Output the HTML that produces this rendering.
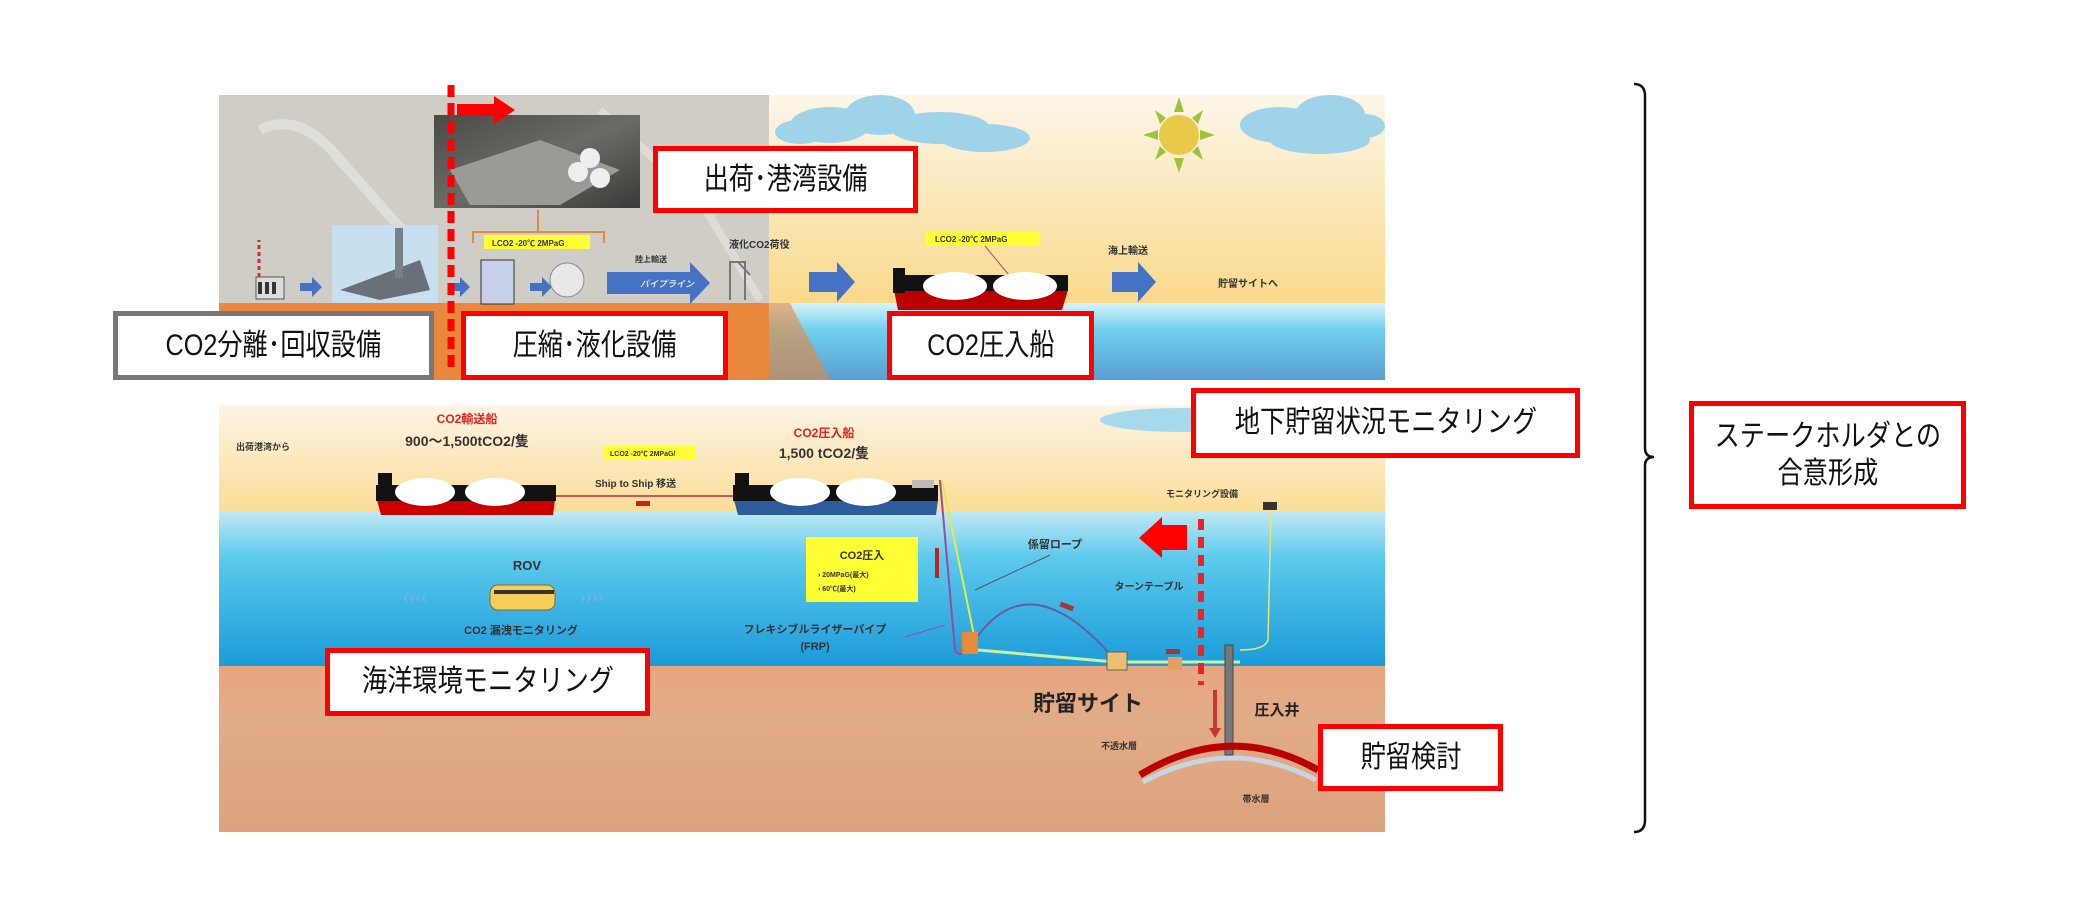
<!DOCTYPE html>
<html><head><meta charset="utf-8">
<style>
html,body{margin:0;padding:0;background:#fff;}
body{width:2080px;height:914px;position:relative;overflow:hidden;font-family:"Liberation Sans","Noto Sans CJK JP",sans-serif;}
.lb{position:absolute;box-sizing:border-box;background:#fff;border:5px solid #f00;display:flex;align-items:center;justify-content:center;font-size:30px;color:#111;line-height:1.25;text-align:center;white-space:nowrap;font-family:"Liberation Sans","Noto Sans CJK JP",sans-serif;}
.lb span{display:inline-block;transform:scaleX(0.84);}
svg text{font-family:"Liberation Sans","Noto Sans CJK JP",sans-serif;font-weight:bold;}
</style></head><body>
<svg width="2080" height="914" viewBox="0 0 2080 914" style="position:absolute;left:0;top:0">
<defs>
<linearGradient id="sky" x1="0" y1="0" x2="0" y2="1"><stop offset="0" stop-color="#fdf6e8"/><stop offset="1" stop-color="#f9d98a"/></linearGradient>
<linearGradient id="sea" x1="0" y1="0" x2="0" y2="1"><stop offset="0" stop-color="#bfe9f4"/><stop offset="0.3" stop-color="#5bc9ec"/><stop offset="1" stop-color="#1a9ad8"/></linearGradient>
<linearGradient id="sea2" x1="0" y1="0" x2="0" y2="1"><stop offset="0" stop-color="#d8f4f8"/><stop offset="0.35" stop-color="#6fd0ee"/><stop offset="1" stop-color="#5a9ed0"/></linearGradient>
<linearGradient id="gnd" x1="0" y1="0" x2="0" y2="1"><stop offset="0" stop-color="#e8a680"/><stop offset="0.3" stop-color="#e0ac86"/><stop offset="1" stop-color="#dca27e"/></linearGradient>
<linearGradient id="bsky" x1="0" y1="0" x2="0" y2="1"><stop offset="0" stop-color="#fdf4e4"/><stop offset="1" stop-color="#fbdc94"/></linearGradient>
<linearGradient id="photo" x1="0" y1="0" x2="1" y2="1"><stop offset="0" stop-color="#4a4a48"/><stop offset="0.5" stop-color="#6a6a66"/><stop offset="1" stop-color="#3a3a38"/></linearGradient>
</defs>
<rect x="769" y="95" width="616" height="210" fill="url(#sky)"/>
<rect x="769" y="303" width="616" height="77" fill="url(#sea2)"/>
<polygon points="769,303 790,303 830,380 769,380" fill="#e9873c" opacity="0.6"/>
<rect x="219" y="95" width="550" height="210" fill="#cfcdc6"/>
<path d="M260 130 Q300 110 340 160 L420 250" stroke="#e0ded8" stroke-width="10" fill="none"/>
<path d="M600 110 L700 200 L760 300" stroke="#dedcd5" stroke-width="8" fill="none"/>
<rect x="219" y="303" width="550" height="77" fill="#e9873c"/>
<rect x="434" y="115" width="206" height="93" fill="url(#photo)"/>
<polygon points="450,170 540,140 620,170 560,205 470,205" fill="#9a9a96"/>
<circle cx="590" cy="158" r="10" fill="#eee"/><circle cx="600" cy="178" r="10" fill="#eee"/><circle cx="578" cy="172" r="10" fill="#eee"/>
<path d="M473 243 L473 232 L604 232 L604 243 M538 232 L538 210" stroke="#e08a40" stroke-width="2" fill="none"/>
<rect x="256" y="277" width="28" height="22" fill="#ddd" stroke="#555"/>
<rect x="258" y="282" width="4" height="12" fill="#333"/><rect x="265" y="282" width="4" height="12" fill="#333"/><rect x="272" y="282" width="4" height="12" fill="#333"/>
<line x1="259" y1="277" x2="259" y2="240" stroke="#c33" stroke-width="3" stroke-dasharray="4,3"/>
<g fill="#4472c4">
<polygon points="300,283 312,283 312,277 322,287 312,297 312,291 300,291"/>
<polygon points="450,283 460,283 460,277 470,287 460,297 460,291 450,291"/>
<polygon points="530,283 542,283 542,277 552,287 542,297 542,291 530,291"/>
<polygon points="607,272 690,272 690,262 710,283 690,304 690,294 607,294"/>
<polygon points="809,272 837,272 837,262 855,282 837,302 837,292 809,292"/>
<polygon points="1112,272 1138,272 1138,262 1156,282 1138,302 1138,292 1112,292"/>
<polygon points="273,474 300,474 300,466 317,481 300,496 300,488 273,488"/>
</g>
<text x="640" y="287" font-size="9" fill="#ddd" font-style="italic">パイプライン</text>
<rect x="332" y="225" width="106" height="78" fill="#c8dff0"/>
<polygon points="340,290 420,260 430,290 380,300" fill="#6a7078"/>
<rect x="395" y="228" width="8" height="50" fill="#7a8088"/>
<rect x="481" y="260" width="33" height="44" fill="#c7d0e8" stroke="#333"/>
<circle cx="567" cy="280" r="17" fill="#e8e8e8" stroke="#888"/>
<rect x="484" y="235" width="106" height="14" fill="#ffff33"/>
<text x="492" y="246" font-size="8" fill="#333">LCO2 -20℃ 2MPaG</text>
<text x="635" y="262" font-size="8" fill="#333">陸上輸送</text>
<text x="729" y="248" font-size="10" fill="#333">液化CO2荷役</text>
<path d="M730 300 L730 262 L745 262 L745 300 M738 262 L750 275" stroke="#777" stroke-width="2" fill="none"/>
<rect x="925" y="231" width="115" height="15" fill="#ffff33"/>
<text x="935" y="242" font-size="8" fill="#333">LCO2 -20℃ 2MPaG</text>
<line x1="985" y1="246" x2="1013" y2="280" stroke="#a55" stroke-width="1"/>
<polygon points="894,290 1068,290 1062,310 898,310" fill="#b00"/>
<rect x="896" y="275" width="172" height="16" fill="#111"/>
<rect x="893" y="268" width="12" height="25" fill="#111"/>
<ellipse cx="955" cy="286" rx="32" ry="14" fill="#fff"/><ellipse cx="1025" cy="286" rx="32" ry="14" fill="#fff"/>
<text x="1108" y="254" font-size="10" fill="#333">海上輸送</text>
<text x="1218" y="287" font-size="10" fill="#333">貯留サイトへ</text>
<g fill="#9fd3ea">
<ellipse cx="830" cy="125" rx="40" ry="18"/><ellipse cx="880" cy="115" rx="35" ry="20"/><ellipse cx="940" cy="128" rx="50" ry="16"/><ellipse cx="985" cy="138" rx="45" ry="14"/><ellipse cx="800" cy="132" rx="25" ry="12"/>
<ellipse cx="1280" cy="125" rx="40" ry="18"/><ellipse cx="1330" cy="115" rx="35" ry="20"/><ellipse cx="1320" cy="140" rx="50" ry="14"/><ellipse cx="1365" cy="126" rx="20" ry="12"/>
</g>
<g fill="#9bc43a"><polygon points="1179,97 1184,112 1174,112"/><polygon points="1179,173 1184,158 1174,158"/><polygon points="1143,135 1158,130 1158,140"/><polygon points="1215,135 1200,130 1200,140"/><polygon points="1155,110 1166,118 1160,124"/><polygon points="1203,110 1192,118 1198,124"/><polygon points="1155,160 1166,152 1160,146"/><polygon points="1203,160 1192,152 1198,146"/></g>
<circle cx="1179" cy="135" r="20" fill="#e8c94a"/>
<rect x="219" y="405" width="1166" height="110" fill="url(#bsky)"/>
<rect x="219" y="512" width="1166" height="156" fill="url(#sea)"/>
<rect x="219" y="666" width="1166" height="166" fill="url(#gnd)"/>
<ellipse cx="1180" cy="420" rx="80" ry="12" fill="#a8d8ec"/><ellipse cx="1380" cy="420" rx="20" ry="10" fill="#a8d8ec"/>
<text x="236" y="450" font-size="9" fill="#333">出荷港湾から</text>
<text x="467" y="423" font-size="12" fill="#d22" text-anchor="middle">CO2輸送船</text>
<text x="467" y="446" font-size="14" fill="#333" text-anchor="middle">900～1,500tCO2/隻</text>
<rect x="604" y="446" width="92" height="14" fill="#ffff33"/>
<text x="610" y="456" font-size="7" fill="#333">LCO2 -20℃ 2MPaG/</text>
<text x="595" y="487" font-size="10" fill="#333">Ship to Ship 移送</text>
<rect x="636" y="501" width="14" height="5" fill="#c22"/>
<text x="824" y="437" font-size="12" fill="#d22" text-anchor="middle">CO2圧入船</text>
<text x="824" y="458" font-size="14" fill="#333" text-anchor="middle">1,500 tCO2/隻</text>
<line x1="554" y1="496" x2="733" y2="496" stroke="#c55" stroke-width="2"/>
<polygon points="377,500 555,500 553,515 381,515" fill="#c00"/>
<rect x="376" y="485" width="180" height="16" fill="#111"/>
<rect x="378" y="473" width="14" height="15" fill="#111"/>
<ellipse cx="425" cy="492" rx="30" ry="14" fill="#fff"/><ellipse cx="495" cy="492" rx="30" ry="14" fill="#fff"/>
<polygon points="734,500 938,500 936,515 738,515" fill="#2d5c9c"/>
<rect x="733" y="485" width="205" height="16" fill="#111"/>
<rect x="735" y="473" width="14" height="15" fill="#111"/>
<ellipse cx="800" cy="492" rx="30" ry="14" fill="#fff"/><ellipse cx="866" cy="492" rx="30" ry="14" fill="#fff"/>
<rect x="912" y="480" width="22" height="8" fill="#bbb"/>
<text x="527" y="570" font-size="13" fill="#333" text-anchor="middle">ROV</text>
<rect x="490" y="585" width="65" height="25" rx="8" fill="#f4cd5a" stroke="#8a6a20"/>
<rect x="494" y="590" width="60" height="4" fill="#333"/>
<text x="403" y="603" font-size="18" fill="#6ab4e8">‹‹‹‹</text>
<text x="580" y="603" font-size="18" fill="#6ab4e8">››››</text>
<text x="521" y="634" font-size="11" fill="#333" text-anchor="middle">CO2 漏洩モニタリング</text>
<rect x="806" y="537" width="112" height="65" fill="#ffff33"/>
<text x="862" y="559" font-size="11" fill="#333" text-anchor="middle">CO2圧入</text>
<text x="818" y="577" font-size="7" fill="#333">› 20MPaG(最大)</text>
<text x="818" y="591" font-size="7" fill="#333">› 60℃(最大)</text>
<rect x="935" y="548" width="4" height="30" fill="#b22"/>
<text x="815" y="633" font-size="11" fill="#333" text-anchor="middle">フレキシブルライザーパイプ</text>
<text x="815" y="650" font-size="11" fill="#333" text-anchor="middle">(FRP)</text>
<line x1="945" y1="625" x2="905" y2="637" stroke="#a4a" stroke-width="1"/>
<text x="1055" y="548" font-size="11" fill="#333" text-anchor="middle">係留ロープ</text>
<line x1="1050" y1="555" x2="975" y2="590" stroke="#555" stroke-width="1"/>
<text x="1149" y="590" font-size="10" fill="#333" text-anchor="middle">ターンテーブル</text>
<text x="1202" y="497" font-size="9" fill="#333" text-anchor="middle">モニタリング設備</text>
<path d="M940 480 L955 650 Q960 660 970 645" stroke="#9a4aa0" stroke-width="2" fill="none"/>
<path d="M942 480 L975 640" stroke="#e8e84a" stroke-width="2" fill="none"/>
<path d="M975 640 Q1030 560 1115 660" stroke="#6a5aa0" stroke-width="2" fill="none"/>
<path d="M978 650 L1115 662 L1240 662" stroke="#c8f0a0" stroke-width="3" fill="none"/>
<rect x="962" y="632" width="16" height="22" fill="#e88a3a"/>
<rect x="1060" y="604" width="14" height="5" fill="#a33" transform="rotate(20 1067 606)"/>
<rect x="1166" y="649" width="14" height="5" fill="#a33"/>
<rect x="1107" y="652" width="20" height="18" fill="#e8c070" stroke="#665"/>
<rect x="1168" y="657" width="14" height="13" fill="#e0a060"/>
<path d="M1271 510 L1268 640 Q1265 650 1240 650" stroke="#e8e86a" stroke-width="1.5" fill="none"/>
<rect x="1263" y="502" width="14" height="8" fill="#333"/>
<rect x="1225" y="645" width="8" height="110" fill="#777" stroke="#444"/>
<text x="1088" y="711" font-size="22" fill="#222" text-anchor="middle">貯留サイト</text>
<text x="1277" y="715" font-size="15" fill="#222" text-anchor="middle">圧入井</text>
<path d="M1140 775 Q1230 720 1318 770" stroke="#b00" stroke-width="7" fill="none"/>
<path d="M1143 782 Q1230 735 1316 780" stroke="#c8d4e0" stroke-width="5" fill="none"/>
<text x="1119" y="749" font-size="9" fill="#333" text-anchor="middle">不透水層</text>
<text x="1256" y="802" font-size="9" fill="#333" text-anchor="middle">帯水層</text>
<rect x="1213" y="690" width="4" height="40" fill="#c33"/>
<polygon points="1209,728 1221,728 1215,738" fill="#c33"/>
<line x1="451" y1="85" x2="451" y2="372" stroke="#f00" stroke-width="7" stroke-dasharray="12,6"/>
<polygon points="457,104 494,104 494,96 515,110 494,124 494,116 457,116" fill="#f00"/>
<line x1="1201" y1="519" x2="1201" y2="685" stroke="#e22" stroke-width="6" stroke-dasharray="11,7"/>
<polygon points="1187,525 1162,525 1162,517 1139,538 1162,558 1162,550 1187,550" fill="#f00"/>
<path d="M1634 84 Q1645 84 1645 96 L1645 448 Q1645 457 1654 457 Q1645 457 1645 466 L1645 820 Q1645 832 1634 832" stroke="#111" stroke-width="2.5" fill="none"/>
</svg>
<div class="lb" style="left:653px;top:146px;width:265px;height:67px"><span>出荷･港湾設備</span></div>
<div class="lb" style="left:113px;top:311px;width:321px;height:69px;border-color:#777"><span>CO2分離･回収設備</span></div>
<div class="lb" style="left:461px;top:311px;width:267px;height:69px"><span>圧縮･液化設備</span></div>
<div class="lb" style="left:887px;top:311px;width:207px;height:69px"><span>CO2圧入船</span></div>
<div class="lb" style="left:1191px;top:388px;width:389px;height:70px"><span>地下貯留状況モニタリング</span></div>
<div class="lb" style="left:1689px;top:401px;width:277px;height:108px"><span>ステークホルダとの<br>合意形成</span></div>
<div class="lb" style="left:325px;top:648px;width:325px;height:68px"><span>海洋環境モニタリング</span></div>
<div class="lb" style="left:1318px;top:724px;width:185px;height:67px"><span>貯留検討</span></div>
</body></html>
